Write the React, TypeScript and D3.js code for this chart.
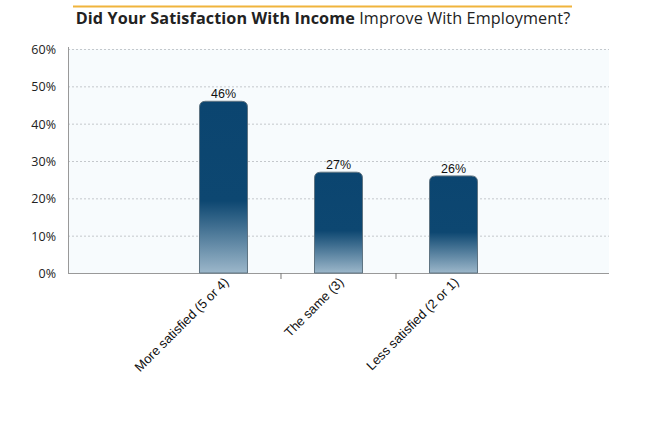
import React from "react";
import * as d3 from "d3";

const categories = ["More satisfied (5 or 4)", "The same (3)", "Less satisfied (2 or 1)"];
const values = [46, 27, 26];
const yTicks = [0, 10, 20, 30, 40, 50, 60];

export default function App() {
  const W = 645, H = 439;
  const left = 68, right = 609, top = 49, bottom = 273;
  const x = d3.scaleBand<string>().domain(categories).range([left, right]).paddingOuter(1.139).paddingInner(0.574);
  const y = d3.scaleLinear().domain([0, 60]).range([bottom, top]);
  const step = x.step();
  const bw = x.bandwidth();
  const font = "'Open Sans', sans-serif";
  const font2 = "'Liberation Sans', Arial, sans-serif";
  const r = 6;
  const barPath = (x0: number, y0: number, w: number, h: number) => {
    const rr = Math.min(r, h);
    return `M${x0},${y0 + h}V${y0 + rr}Q${x0},${y0} ${x0 + rr},${y0}H${x0 + w - rr}Q${x0 + w},${y0} ${x0 + w},${y0 + rr}V${y0 + h}Z`;
  };
  return (
    <svg width={W} height={H} style={{ position: "absolute", left: 0, top: 0, background: "#fff" }}>
      <defs>
        <linearGradient id="barg" x1="0" y1="0" x2="0" y2="1">
          <stop offset="0" stopColor="#0b4570" />
          <stop offset="0.58" stopColor="#0d4771" />
          <stop offset="1" stopColor="#9cb7ca" />
        </linearGradient>
      </defs>
      <line x1={73} x2={572} y1={6.5} y2={6.5} stroke="#f0b43c" strokeWidth={2} />
      <text x={323} y={24} textAnchor="middle" fontFamily={font} fontSize={16.2} fill="#222" letterSpacing={0.1}>
        <tspan fontWeight="bold">Did Your Satisfaction With Income</tspan>
        <tspan> Improve With Employment?</tspan>
      </text>
      <rect x={left} y={top} width={right - left} height={bottom - top} fill="#f7fbfd" />
      {yTicks.map((t) => (
        <g key={t}>
          {t > 0 && (
            <line x1={left} x2={right} y1={y(t) + 0.5} y2={y(t) + 0.5} stroke="#c4c8cc" strokeWidth={1} strokeDasharray="2,2" />
          )}
          <text x={56} y={y(t) + 5} textAnchor="end" fontFamily={font} fontSize={12.5} fill="#222">{t}%</text>
        </g>
      ))}
      <line x1={left + 0.5} x2={left + 0.5} y1={top - 2} y2={bottom} stroke="#999" />
      <line x1={left} x2={right} y1={bottom + 0.5} y2={bottom + 0.5} stroke="#999" />
      {categories.slice(1).map((c) => (
        <line key={c} x1={x(c)! - (step - bw) / 2} x2={x(c)! - (step - bw) / 2} y1={bottom} y2={bottom + 6} stroke="#777" />
      ))}
      {categories.map((c, i) => {
        const x0 = x(c)!;
        const y0 = y(values[i]);
        const cx = x0 + bw / 2;
        return (
          <g key={c}>
            <path d={barPath(x0 + 0.5, y0, bw - 1, bottom - y0)} fill="url(#barg)" stroke="#5f7482" strokeWidth={1} />
            <text x={cx} y={y0 - 3} textAnchor="middle" fontFamily={font2} fontSize={12.5} fill="#111">{values[i]}%</text>
            <text transform={`translate(${cx + 6},${bottom + 10}) rotate(-45)`} textAnchor="end" fontFamily={font2} fontSize={13} fill="#111">{c}</text>
          </g>
        );
      })}
    </svg>
  );
}
